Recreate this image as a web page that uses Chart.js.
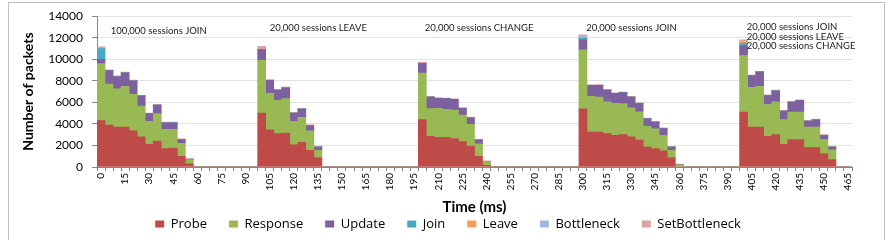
<!DOCTYPE html>
<html>
<head>
<meta charset="utf-8">
<script src="https://cdn.jsdelivr.net/npm/chart.js@4.4.0/dist/chart.umd.min.js"></script>
<style>
  body { margin: 0; background: #fff; }
  #wrap { position: relative; width: 894px; height: 240px; overflow: hidden; }
  #frame { position: absolute; left: 8px; top: 2px; width: 877px; height: 260px; border: 1px solid #bfbfbf; box-sizing: border-box; }
  canvas { position: absolute; left: 0; top: 0; }
</style>
</head>
<body>
<div id="wrap">
  <div id="frame"></div>
  <canvas id="chart" width="894" height="240"></canvas>
</div>
<script>
// time axis, one bar every 5 ms
const times = [0,5,10,15,20,25,30,35,40,45,50,55,60,65,70,75,80,85,90,95,
  100,105,110,115,120,125,130,135,140,145,150,155,160,165,170,175,180,185,190,195,
  200,205,210,215,220,225,230,235,240,245,250,255,260,265,270,275,280,285,290,295,
  300,305,310,315,320,325,330,335,340,345,350,355,360,365,370,375,380,385,390,395,
  400,405,410,415,420,425,430,435,440,445,450,455,460,465];

const probe = [4300,3900,3700,3700,3350,2800,2100,2400,1700,1750,1000,300, 0,0,0,0,0,0,0,0,
  5000,3450,3100,3150,2050,2300,1550,850, 0,0,0,0,0,0,0,0,0,0,0,0,
  4400,2850,2750,2750,2650,2350,1950,1000,150, 0,0,0,0,0,0,0,0,0,0,0,
  5400,3250,3250,3100,2950,3000,2800,2500,1850,1700,1500,850,0, 0,0,0,0,0,0,0,
  5100,3700,3700,2850,3000,2100,2550,2550,1800,1800,1250,700, 0,0];

const response = [5300,3800,3550,3800,3400,2850,2150,2550,1800,1750,1200,380, 0,0,0,0,0,0,0,0,
  4900,3400,3100,3200,2200,2300,1800,700, 0,0,0,0,0,0,0,0,0,0,0,0,
  4330,2570,2700,2600,2630,2480,2000,1150,310, 0,0,0,0,0,0,0,0,0,0,0,
  5480,3300,3250,2950,2950,2880,2700,2630,1920,1850,1450,700,200, 0,0,0,0,0,0,0,
  5250,3700,3800,2950,3050,2300,2550,2550,1900,1900,1300,900, 0,0];

const update = [400,1250,1150,1250,1250,950,700,800,600,600,350,0, 0,0,0,0,0,0,0,0,
  1000,1200,950,1000,750,780,500,300, 0,0,0,0,0,0,0,0,0,0,0,0,
  870,1080,930,1000,1000,620,620,370,0, 0,0,0,0,0,0,0,0,0,0,0,
  930,1030,1090,1080,930,1020,990,770,710,620,620,310,0, 0,0,0,0,0,0,0,
  930,1080,1330,830,1020,800,930,1080,555,685,400,250, 0,0];

const join = [1000,0,0,0,0,0,0,0,0,0,0,0, 0,0,0,0,0,0,0,0,
  0,0,0,0,0,0,0,0, 0,0,0,0,0,0,0,0,0,0,0,0,
  0,0,0,0,0,0,0,0,0, 0,0,0,0,0,0,0,0,0,0,0,
  150,0,0,0,0,0,0,0,0,0,0,0,0, 0,0,0,0,0,0,0,
  200,0,0,0,0,0,0,0,0,0,0,0, 0,0];

const leave = [0,0,0,0,0,0,0,0,0,0,0,0, 0,0,0,0,0,0,0,0,
  0,0,0,0,0,0,0,0, 0,0,0,0,0,0,0,0,0,0,0,0,
  0,0,0,0,0,0,0,0,0, 0,0,0,0,0,0,0,0,0,0,0,
  0,0,0,0,0,0,0,0,0,0,0,0,0, 0,0,0,0,0,0,0,
  100,0,0,0,0,0,0,0,0,0,0,0, 0,0];

const bottleneck = [0,0,0,0,0,0,0,0,0,0,0,0, 0,0,0,0,0,0,0,0,
  0,0,0,0,0,0,0,0, 0,0,0,0,0,0,0,0,0,0,0,0,
  0,0,0,0,0,0,0,0,0, 0,0,0,0,0,0,0,0,0,0,0,
  150,0,0,0,0,0,0,0,0,0,0,0,0, 0,0,0,0,0,0,0,
  120,0,0,0,0,0,0,0,0,0,0,0, 0,0];

const setBottleneck = [150,60,60,60,60,60,60,60,60,60,60,120, 0,0,0,0,0,0,0,0,
  300,60,60,60,60,60,60,90, 0,0,0,0,0,0,0,0,0,0,0,0,
  150,60,60,60,60,60,60,60,120, 0,0,0,0,0,0,0,0,0,0,0,
  150,60,60,60,60,60,60,60,60,60,60,60,80, 0,0,0,0,0,0,0,
  100,60,60,60,60,60,60,60,60,60,60,60, 0,0];

// notes written over the bursts (category index, value)
const noteText = ["100,000 sessions JOIN", "20,000 sessions LEAVE", "20,000 sessions CHANGE",
  "20,000 sessions JOIN", "20,000 sessions JOIN", "20,000 sessions LEAVE", "20,000 sessions CHANGE"];
const noteAt = [1.2, 21, 40.3, 60.4, 80.4, 80.4, 80.4];
const noteValue = [12650, 12900, 12900, 12900, 13000, 12100, 11250];

Chart.defaults.font.family = "Lato, 'Open Sans', sans-serif";
Chart.defaults.color = "#000";

const LEGEND_FONT = 13, LEGEND_PAD = 22;

const notesPlugin = {
  id: "notes",
  afterDatasetsDraw(chart) {
    const ctx = chart.ctx;
    const xs = chart.scales.x, ys = chart.scales.y;
    ctx.save();
    ctx.font = "9.5px Lato, 'Open Sans', sans-serif";
    ctx.fillStyle = "#1a1a1a";
    ctx.textAlign = "left";
    ctx.textBaseline = "middle";
    for (let i = 0; i < noteText.length; i++) {
      ctx.fillText(noteText[i], xs.getPixelForValue(noteAt[i]), ys.getPixelForValue(noteValue[i]));
    }
    ctx.restore();
  }
};

// keep the legend short so the x axis gets the room, then lift it into place
const legendFitPlugin = {
  id: "legendFit",
  beforeLayout(chart) {
    const lg = chart.legend;
    if (lg && !lg._patched) {
      const fit = lg.fit;
      lg.fit = function() { fit.call(this); this.height = 24; };
      lg._patched = true;
    }
  },
  afterLayout(chart) {
    const lg = chart.legend;
    const shift = (lg.top + LEGEND_PAD + LEGEND_FONT / 2) - 224;
    lg.top -= shift;
    lg.bottom = chart.height;
    lg.left += 12; lg.right += 12;
  }
};

function ds(label, data, color) {
  return { label: label, data: data, backgroundColor: color, borderWidth: 0,
    barPercentage: 1, categoryPercentage: 1 };
}

new Chart(document.getElementById("chart"), {
  type: "bar",
  data: {
    labels: times,
    datasets: [
      ds("Probe", probe, "#be4b48"),
      ds("Response", response, "#98b954"),
      ds("Update", update, "#7d60a0"),
      ds("Join", join, "#46aac5"),
      ds("Leave", leave, "#f59d56"),
      ds("Bottleneck", bottleneck, "#a1b6dc"),
      ds("SetBottleneck", setBottleneck, "#dba4a2")
    ]
  },
  options: {
    responsive: false,
    animation: false,
    layout: { padding: { left: 20, right: 42, top: 16, bottom: 0 } },
    plugins: {
      legend: {
        position: "bottom",
        labels: { boxWidth: 9, boxHeight: 7, padding: LEGEND_PAD,
          font: { size: LEGEND_FONT, family: "'Open Sans', Lato, sans-serif" }, color: "#000" }
      },
      tooltip: { enabled: false }
    },
    scales: {
      x: {
        stacked: true,
        grid: { display: true, drawOnChartArea: false, offset: true, tickLength: 4, color: "#868686" },
        border: { color: "#868686" },
        ticks: {
          autoSkip: false, minRotation: 90, maxRotation: 90, padding: 2,
          font: { size: 10 },
          callback: function(v, i) { return i % 3 === 0 ? times[i] : ""; }
        },
        title: { display: true, text: "Time (ms)", font: { size: 15, weight: "bold" }, padding: { top: 4, bottom: 0 } },
        afterFit: function(scale) { scale.height = 49; }
      },
      y: {
        stacked: true,
        min: 0, max: 14000,
        ticks: { stepSize: 2000, font: { size: 12 }, padding: 9, callback: function(v) { return String(v); } },
        grid: { color: "#e3e3e3", tickColor: "#868686", tickLength: 5 },
        border: { color: "#868686" },
        title: { display: true, text: "Number of packets", font: { size: 14, weight: "bold" }, padding: 0 },
        afterFit: function(scale) { scale.width = 77; }
      }
    }
  },
  plugins: [legendFitPlugin, notesPlugin]
});
</script>
</body>
</html>
